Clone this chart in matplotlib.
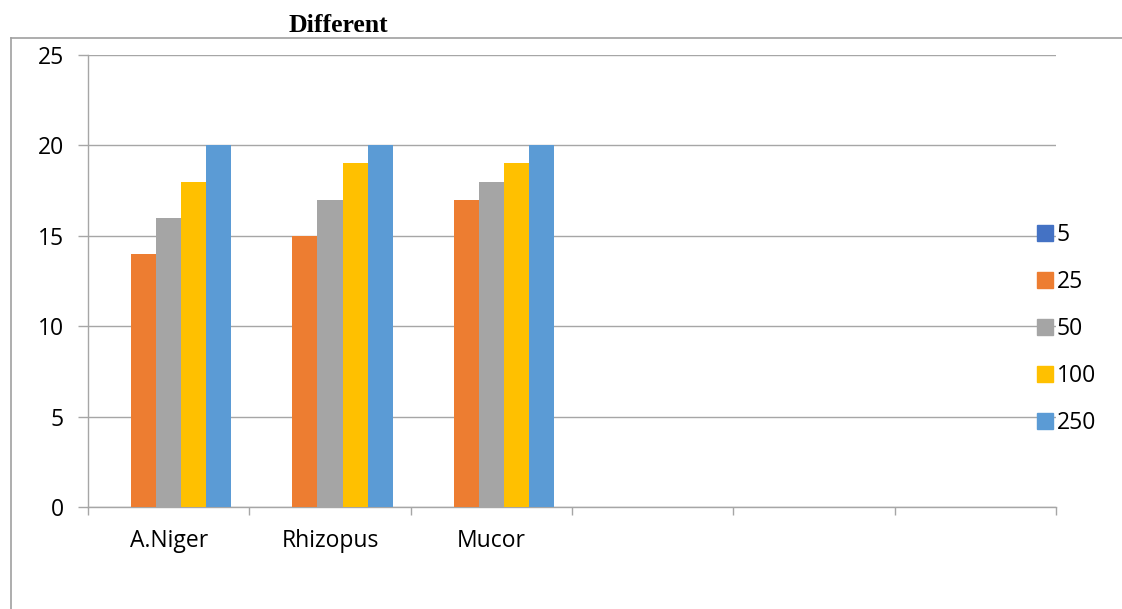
import matplotlib
matplotlib.use("Agg")
import matplotlib.pyplot as plt
import numpy as np
from matplotlib.lines import Line2D

categories = ["A.Niger", "Rhizopus", "Mucor", "", "", ""]
series_names = ["5", "25", "50", "100", "250"]
values = {
    "5":   [0, 0, 0, 0, 0, 0],
    "25":  [14, 15, 17, 0, 0, 0],
    "50":  [16, 17, 18, 0, 0, 0],
    "100": [18, 19, 19, 0, 0, 0],
    "250": [20, 20, 20, 0, 0, 0],
}
colors = ["#4472C4", "#ED7D31", "#A5A5A5", "#FFC000", "#5B9BD5"]
yticks = [0, 5, 10, 15, 20, 25]
title = "Different"

W, H = 1122, 609
FS = 16.5
fig = plt.figure(figsize=(W / 100, H / 100), dpi=100)
ax = fig.add_axes([88 / W, 1 - 507 / H, (1056 - 88) / W, (507 - 55) / H])

n = len(categories)
x = np.arange(n)
bw = 25 / 161.33
for i, s in enumerate(series_names):
    offs = (i - 2) * bw
    ax.bar(x + offs, values[s], width=bw, color=colors[i], zorder=3, label=s)

ax.set_xlim(-0.5, n - 0.5)
ax.set_ylim(0, 25)
ax.set_yticks(yticks)
ax.yaxis.grid(True, color="#A6A6A6", linewidth=1.0, zorder=0)
ax.set_axisbelow(True)

for sp in ["top", "right"]:
    ax.spines[sp].set_visible(False)
for sp in ["left", "bottom"]:
    ax.spines[sp].set_color("#A6A6A6")
    ax.spines[sp].set_linewidth(1.0)

ax.set_xticks(np.arange(n + 1) - 0.5)
ax.set_xticklabels([])
ax.set_xticks(x, minor=True)
ax.set_xticklabels(categories, minor=True, fontsize=FS, family="Open Sans")
ax.tick_params(axis="x", which="major", length=6, color="#A6A6A6", width=1)
ax.tick_params(axis="x", which="minor", length=0, pad=16)
ax.tick_params(axis="y", length=7.5, color="#A6A6A6", width=1, pad=10, labelsize=FS)
for lab in ax.get_yticklabels():
    lab.set_family("Open Sans")

# legend
handles = [Line2D([], [], marker="s", linestyle="none", markersize=11,
                  markerfacecolor=c, markeredgecolor=c) for c in colors]
leg = fig.legend(handles, series_names, loc="upper left",
                 bbox_to_anchor=(1037 / W, 1 - 223 / H), frameon=False,
                 prop={"family": "Open Sans", "size": FS},
                 handlelength=0.7, handletextpad=0.15, labelspacing=1.0,
                 borderaxespad=0, borderpad=0)

fig.text(338 / W, 1 - 26 / H, title, ha="center", va="center",
         family="Liberation Serif", fontweight="bold", fontsize=18.5)

# outer frame lines
fig.add_artist(Line2D([11 / W, 11 / W], [0, 1 - 38 / H], transform=fig.transFigure,
                      color="#A0A0A0", linewidth=1.2))
fig.add_artist(Line2D([11 / W, 1], [1 - 38 / H, 1 - 38 / H], transform=fig.transFigure,
                      color="#A0A0A0", linewidth=1.2))

fig.savefig("out.png", dpi=100)
